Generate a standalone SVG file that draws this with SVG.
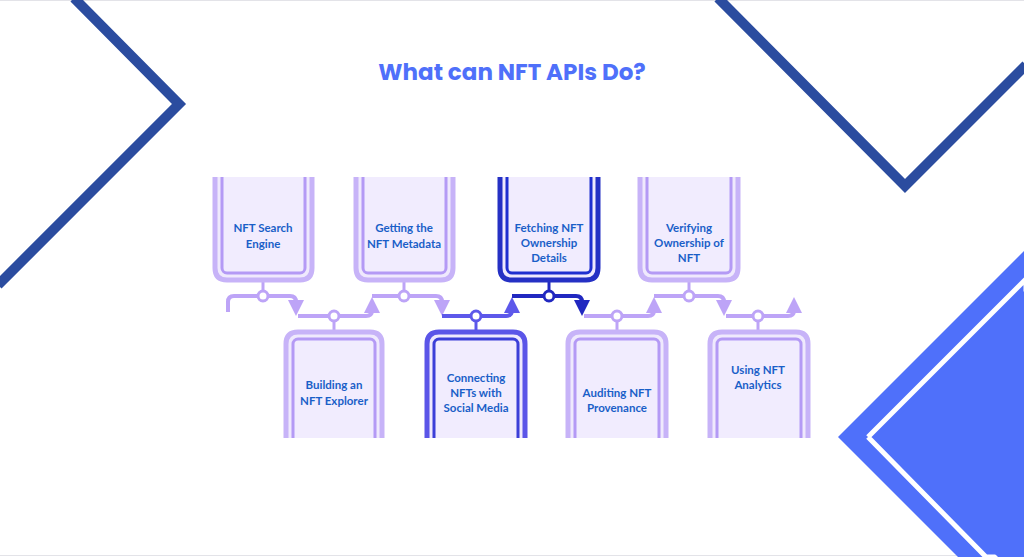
<svg xmlns="http://www.w3.org/2000/svg" width="1024" height="557" viewBox="0 0 1024 557">
<defs>
<style>
.t{font-family:"Lato","Liberation Sans",sans-serif;font-size:11.5px;fill:#1a5fc8;text-anchor:middle;font-weight:700}
.oL{fill:#efe9fd;stroke:#c7b3f8;stroke-width:5}
.iL{fill:#f1ecfe;stroke:#b49af5;stroke-width:3}
.oD{fill:#efe9fd;stroke:#2530c4;stroke-width:5}
.iD{fill:#f1ecfe;stroke:#1f2fd0;stroke-width:3}
.oM{fill:#efe9fd;stroke:#5b55e8;stroke-width:5}
.iM{fill:#f1ecfe;stroke:#3c3fd8;stroke-width:3}
.cL{fill:none;stroke:#bda4f7;stroke-width:4}
.cM{fill:none;stroke:#5d58ea;stroke-width:4}
.cD{fill:none;stroke:#2128c0;stroke-width:4}
</style>
<marker id="aL" markerWidth="4" markerHeight="4" refX="2" refY="2" orient="auto" markerUnits="strokeWidth"><path d="M0,0L4,2L0,4z" fill="#bda4f7"/></marker>
<marker id="aM" markerWidth="4" markerHeight="4" refX="2" refY="2" orient="auto" markerUnits="strokeWidth"><path d="M0,0L4,2L0,4z" fill="#5d58ea"/></marker>
<marker id="aD" markerWidth="4" markerHeight="4" refX="2" refY="2" orient="auto" markerUnits="strokeWidth"><path d="M0,0L4,2L0,4z" fill="#2128c0"/></marker>
</defs>
<rect width="1024" height="557" fill="#fff"/>
<line x1="0" y1="0.5" x2="1024" y2="0.5" stroke="#e3e3e8"/>
<line x1="0" y1="555.5" x2="1024" y2="555.5" stroke="#e3e3e8"/>
<polyline points="74,-2 179,104 -2,285" fill="none" stroke="#2b4c9f" stroke-width="10"/>
<polyline points="718,-2 905,186 1026,65" fill="none" stroke="#2b4c9f" stroke-width="10"/>
<polygon points="838,437 1024,251 1024,557 958,557" fill="#4f70fa"/>
<polyline points="868,437 1026,279 1026,557 986,557 868,437" fill="none" stroke="#fff" stroke-width="5"/>
<polygon points="878,437 1024,291 1024,557 998,557" fill="#4f70fa"/>
<text x="512" y="80" font-family="Poppins,'Open Sans','Liberation Sans',sans-serif" font-weight="700" font-size="23" fill="#4f70fa" text-anchor="middle">What can NFT APIs Do?</text>
<g id="connectors">
<path class="cL" d="M228,312 V302 q0,-6 6,-6 H290 q6,0 6,6 V308" marker-end="url(#aL)"/>
<path class="cL" d="M298,316 H366 q6,0 6,-6 V305" marker-end="url(#aL)"/>
<path class="cL" d="M372,296 H436 q6,0 6,6 V308" marker-end="url(#aL)"/>
<path class="cM" d="M442,316 H506 q6,0 6,-6 V305" marker-end="url(#aM)"/>
<path class="cD" d="M512,296 H576 q6,0 6,6 V308" marker-end="url(#aD)"/>
<path class="cL" d="M584,316 H648 q6,0 6,-6 V305" marker-end="url(#aL)"/>
<path class="cL" d="M654,296 H718 q6,0 6,6 V308" marker-end="url(#aL)"/>
<path class="cL" d="M726,316 H788 q6,0 6,-6 V305" marker-end="url(#aL)"/>
<g stroke-width="3" fill="#fff">
<line x1="263" y1="282" x2="263" y2="296" stroke="#bda4f7"/><circle cx="263" cy="296" r="5" stroke="#bda4f7"/>
<line x1="404" y1="282" x2="404" y2="296" stroke="#bda4f7"/><circle cx="404" cy="296" r="5" stroke="#bda4f7"/>
<line x1="549" y1="282" x2="549" y2="296" stroke="#2128c0"/><circle cx="549" cy="296" r="5" stroke="#2128c0"/>
<line x1="689" y1="282" x2="689" y2="296" stroke="#bda4f7"/><circle cx="689" cy="296" r="5" stroke="#bda4f7"/>
<line x1="334" y1="316" x2="334" y2="330" stroke="#bda4f7"/><circle cx="334" cy="316" r="5" stroke="#bda4f7"/>
<line x1="476" y1="316" x2="476" y2="330" stroke="#5d58ea"/><circle cx="476" cy="316" r="5" stroke="#5d58ea"/>
<line x1="617" y1="316" x2="617" y2="330" stroke="#bda4f7"/><circle cx="617" cy="316" r="5" stroke="#bda4f7"/>
<line x1="758" y1="316" x2="758" y2="330" stroke="#bda4f7"/><circle cx="758" cy="316" r="5" stroke="#bda4f7"/>
</g>
</g>
<g id="n1"><path class="oL" d="M215,177 V268 q0,12 12,12 H300 q12,0 12,-12 V177"/><rect class="iL" x="222" y="170" width="83" height="103" rx="5"/><text class="t" x="263" y="232">NFT Search</text><text class="t" x="263" y="248">Engine</text></g>
<g id="n2"><path class="oL" d="M356,177 V268 q0,12 12,12 H441 q12,0 12,-12 V177"/><rect class="iL" x="363" y="170" width="83" height="103" rx="5"/><text class="t" x="404" y="232">Getting the</text><text class="t" x="404" y="248">NFT Metadata</text></g>
<g id="n3"><path class="oD" d="M500,177 V268 q0,12 12,12 H586 q12,0 12,-12 V177"/><rect class="iD" x="507" y="170" width="84" height="103" rx="5"/><text class="t" x="549" y="232">Fetching NFT</text><text class="t" x="549" y="247">Ownership</text><text class="t" x="549" y="262">Details</text></g>
<g id="n4"><path class="oL" d="M640,177 V268 q0,12 12,12 H726 q12,0 12,-12 V177"/><rect class="iL" x="647" y="170" width="84" height="103" rx="5"/><text class="t" x="689" y="232">Verifying</text><text class="t" x="689" y="247">Ownership of</text><text class="t" x="689" y="262">NFT</text></g>
<rect x="200" y="160" width="560" height="17" fill="#fff"/>
<g id="n5"><path class="oL" d="M286,440 V344 q0,-12 12,-12 H370 q12,0 12,12 V440"/><rect class="iL" x="293" y="339" width="82" height="110" rx="5"/><text class="t" x="334" y="389">Building an</text><text class="t" x="334" y="405">NFT Explorer</text></g>
<g id="n6"><path class="oM" d="M427,440 V344 q0,-12 12,-12 H513 q12,0 12,12 V440"/><rect class="iM" x="434" y="339" width="84" height="110" rx="5"/><text class="t" x="476" y="382">Connecting</text><text class="t" x="476" y="397">NFTs with</text><text class="t" x="476" y="412">Social Media</text></g>
<g id="n7"><path class="oL" d="M568,440 V344 q0,-12 12,-12 H654 q12,0 12,12 V440"/><rect class="iL" x="575" y="339" width="84" height="110" rx="5"/><text class="t" x="617" y="397">Auditing NFT</text><text class="t" x="617" y="412">Provenance</text></g>
<g id="n8"><path class="oL" d="M710,440 V344 q0,-12 12,-12 H796 q12,0 12,12 V440"/><rect class="iL" x="717" y="339" width="84" height="110" rx="5"/><text class="t" x="758" y="374">Using NFT</text><text class="t" x="758" y="389">Analytics</text></g>
<rect x="270" y="438" width="560" height="20" fill="#fff"/>
</svg>
